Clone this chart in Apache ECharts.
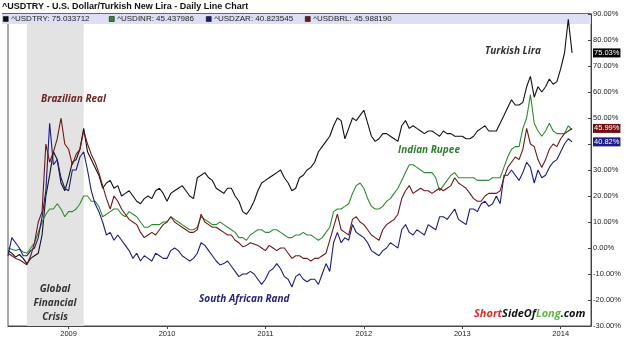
<!DOCTYPE html>
<html>
<head>
<meta charset="utf-8">
<script src="https://cdn.jsdelivr.net/npm/echarts@6/dist/echarts.min.js"></script>
<style>
html,body{margin:0;padding:0;background:#fff;}
#chart{width:625px;height:355px;}
</style>
</head>
<body>
<div id="chart"></div>
<script>
// ---- data ----
const startDate = [2008, 4, 28];   // 2008-05-28
const stepDays = 14;
const categoryCount = 155;
const seriesNames = ['^USDTRY', '^USDINR', '^USDZAR', '^USDBRL'];
const legendValues = ['75.033712', '45.437986', '40.823545', '45.988190'];
const yTicks = { min: -30, max: 90, interval: 10 };
const crisisStartIndex = 5;
const crisisEndIndex = 20;

const usdtry = [-1,-2,-3.5,-2.5,-4,-6,-4,-3,-2,5,20,28,37,34,25,22,27,33,34,38,46,37,34,31,28,23,25,26,23,24,
20,21,22,20,18,17,19,20,19,22,23,21,18,21,22,23,24,22,20,19,27,28,29,27,26,23,22,21,23,23,
20,18,14,13,15,18,22,25,26,27,28,29,30,27,25,22,23,27,28,30,31,33,37,39,41,43,47,50,49,42,
46,50,49,51,53,48,43,41,42,44,44,43,42,41,47,49,46,47,46,45,44,45,45,44,43,45,44,44,43,43,
43,42,42,43,45,46,47,45,45,45,48,51,54,57,55,55,56,62,66,58,62,60,62,65,63,64,69,75,88,75.03];

const usdinr = [0,-0.5,-1,-0.5,-1.5,-2,0,2,6,10,13,15,15,17,15,12,14,14,15,17,20,20,18,18,16,12,13,14,15,15,
13,12,14,13,12,10,8,8,9,9,9,10,10,12,11,10,9,8,7,7,8,12,11,10,9,9,10,9,8,7,
6,4,4,3,5,6,7,7,6,6,7,7,6,5,4,4,5,5,6,5,5,4,3,4,6,8,14,15,15,16,
17,21,24,25,23,19,16,15,15,16,18,19,21,23,26,29,32,32,31,30,29,29,29,27,22,24,26,28,29,27,
27,27,27,27,26,26,26,26,27,27,27,31,35,38,39,39,46,50,59,48,45,43,45,48,45,44,44,44,47,45.44];

const usdzar = [-3,4,2,0,-3,-3,-1,0,4,12,22,48,32,34,27,23,22,30,30,35,37,30,22,17,14,10,5,6,3,5,
3,1,-1,-4,-2,-5,-3,-4,-5,-2,-3,-4,-4,-1,0,-1,-3,-4,-5,-4,-2,2,1,-1,-3,-5,-6.5,-6,-5,-7,
-9,-11,-10,-10,-9,-10,-12,-14,-12,-9,-8,-6,-8,-11,-12,-15,-11,-10,-12,-13,-12,-12,-14,-10,-6,-9,2,6,2,4,
3,9,6,5,4,2,-1,-2,-3,-1,0,2,1,0,7,9,6,5,7,6,5,9,8,7,12,12,11,13,15,11,
10,9,15,15,14,17,18,16,17,20,17,28,28,30,28,26,29,33,31,25,30,27,28,31,33,34,37,40,42,40.82];

const usdbrl = [-2,-3,-4,-4.5,-5.5,-6.5,-3,2,10,14,40,33,37,42,50,40,38,32,36,38,45,40,36,33,29,24,19,15,20,18,
15,13,11,10,9,6,4,5,6,5,7,9,10,12,10,9,8,7,6,6,7,13,10,9,8,8,7,6,5,5,
3,2,0.5,1,2,1.5,1,0,-1,1,0,-1,0,0,-2,-4,-3,-3,-4,-4,-5,-4,-4,-3,-2,3,8,13,7,6,
5,11,12,10,9,7,5,4,3,7,9,10,11,13,19,22,24,21,22,23,22,22,21,22,23,22,23,24,27,25,
24,23,21,19,18,18,20,21,21,21,22,27,31,33,35,34,38,46,40,39,34,31,34,38,40,39,42,44,45,45.99];

// ---- build ----
const cats = [];
const t0 = Date.UTC(startDate[0], startDate[1], startDate[2]);
for (let i = 0; i < categoryCount; i++) {
  const d = new Date(t0 + i * stepDays * 86400000);
  const mm = String(d.getUTCMonth() + 1).padStart(2, '0');
  const dd = String(d.getUTCDate()).padStart(2, '0');
  cats.push(d.getUTCFullYear() + '-' + mm + '-' + dd);
}
const yearStart = (idx) => idx > 0 && cats[idx].slice(0, 4) !== cats[idx - 1].slice(0, 4);

const colors = { '^USDTRY': '#111111', '^USDINR': '#2f8a2f', '^USDZAR': '#1c1c7c', '^USDBRL': '#6e1818' };
const tagColors = { '^USDTRY': '#000000', '^USDZAR': '#1c1c86', '^USDBRL': '#701010' };
const dataMap = { '^USDTRY': usdtry, '^USDINR': usdinr, '^USDZAR': usdzar, '^USDBRL': usdbrl };

function tag(name) {
  const arr = dataMap[name];
  if (!tagColors[name]) return undefined;
  return {
    silent: true,
    symbol: ['none', 'none'],
    lineStyle: { color: 'rgba(0,0,0,0)', width: 0 },
    emphasis: { disabled: true },
    data: [{ yAxis: arr[arr.length - 1] }],
    label: {
      show: true, position: 'end', distance: 2,
      formatter: (p) => Number(p.value).toFixed(2) + '%',
      color: '#fff', backgroundColor: tagColors[name],
      fontSize: 7.5, fontFamily: 'Liberation Sans', padding: [1, 1, 0, 1]
    }
  };
}

const font = 'Liberation Sans';
const chart = echarts.init(document.getElementById('chart'), null, { renderer: 'canvas' });

const legendLefts = [3, 109, 206, 305];
const legends = seriesNames.map((n, k) => ({
  data: [n], left: legendLefts[k], top: 14, padding: 0,
  itemWidth: 5, itemHeight: 5, itemGap: 0,
  icon: 'rect',
  itemStyle: { borderColor: '#000', borderWidth: 0.5 },
  textStyle: { fontSize: 8, fontFamily: font, color: '#222', padding: [0, 0, 0, -2], lineHeight: 10 },
  formatter: (name) => name + ': ' + legendValues[seriesNames.indexOf(name)],
  selectedMode: false
}));

const series = [{
  type: 'line', name: 'crisis', data: [], z: 1, silent: true,
  markArea: {
    silent: true,
    itemStyle: { color: '#e3e3e3' },
    data: [[{ xAxis: cats[crisisStartIndex], yAxis: yTicks.min }, { xAxis: cats[crisisEndIndex], yAxis: 86.15 }]]
  }
}].concat(seriesNames.map((n) => ({
  type: 'line', name: n, data: dataMap[n],
  showSymbol: false, symbol: 'none', z: 3, clip: false,
  lineStyle: { width: 1.1, color: colors[n] },
  itemStyle: { color: colors[n] },
  markLine: tag(n)
})));

chart.setOption({
  animation: false,
  backgroundColor: '#fff',
  title: {
    text: '^USDTRY - U.S. Dollar/Turkish New Lira - Daily Line Chart',
    left: 2, top: 2, padding: 0,
    textStyle: { fontSize: 9, fontWeight: 'bold', fontFamily: font, color: '#111' }
  },
  legend: legends,
  grid: { left: 8, right: 34, top: 14, bottom: 29, show: true, borderColor: '#555', borderWidth: 1, backgroundColor: 'transparent' },
  xAxis: {
    type: 'category', data: cats, boundaryGap: false,
    axisLine: { onZero: false, lineStyle: { color: '#444', width: 1 } },
    axisTick: { interval: (i) => yearStart(i), length: 3, lineStyle: { color: '#444' } },
    axisLabel: { interval: (i) => yearStart(i), formatter: (v) => v.slice(0, 4), fontSize: 7.5, fontFamily: font, color: '#222', margin: 4 },
    splitLine: { show: false }
  },
  yAxis: {
    type: 'value', position: 'right', min: yTicks.min, max: yTicks.max, interval: yTicks.interval,
    axisLine: { show: true, lineStyle: { color: '#444' } },
    axisTick: { show: true, inside: true, length: 3, lineStyle: { color: '#444' } },
    axisLabel: { formatter: (v) => v.toFixed(2) + '%', fontSize: 7.5, fontFamily: font, color: '#222', margin: 2 },
    splitLine: { show: false }
  },
  graphic: [
    { type: 'rect', z: 0, silent: true, shape: { x: 2, y: 13.5, width: 589, height: 10.5 }, style: { fill: '#dedef6' } },
    { type: 'line', z: 0, silent: true, shape: { x1: 2, y1: 13.5, x2: 591, y2: 13.5 }, style: { stroke: '#666', lineWidth: 1 } },
    { type: 'text', z: 10, left: 485, top: 46, style: { text: 'Turkish Lira', fill: '#333', font: 'italic bold 10px "Open Sans"' } },
    { type: 'text', z: 10, left: 41, top: 94, style: { text: 'Brazilian Real', fill: '#6b2424', font: 'italic bold 10px "Open Sans"' } },
    { type: 'text', z: 10, left: 398, top: 145, style: { text: 'Indian Rupee', fill: '#2f7f2f', font: 'italic bold 10px "Open Sans"' } },
    { type: 'text', z: 10, left: 199, top: 294, style: { text: 'South African Rand', fill: '#24247a', font: 'italic bold 10px "Open Sans"' } },
    { type: 'text', z: 10, x: 55, y: 282, style: { text: 'Global\nFinancial\nCrisis', align: 'center', lineHeight: 14, fill: '#333', font: 'italic bold 10px "Open Sans"' } },
    { type: 'text', z: 10, left: 474, top: 308, style: {
      text: '{r|Short}{b|SideOf}{g|Long}{b|.com}',
      rich: {
        r: { fill: '#e8281e', font: 'italic bold 11px "Open Sans"' },
        b: { fill: '#111', font: 'italic bold 11px "Open Sans"' },
        g: { fill: '#5fb548', font: 'italic bold 11px "Open Sans"' }
      }
    } }
  ],
  series: series
});
</script>
</body>
</html>
